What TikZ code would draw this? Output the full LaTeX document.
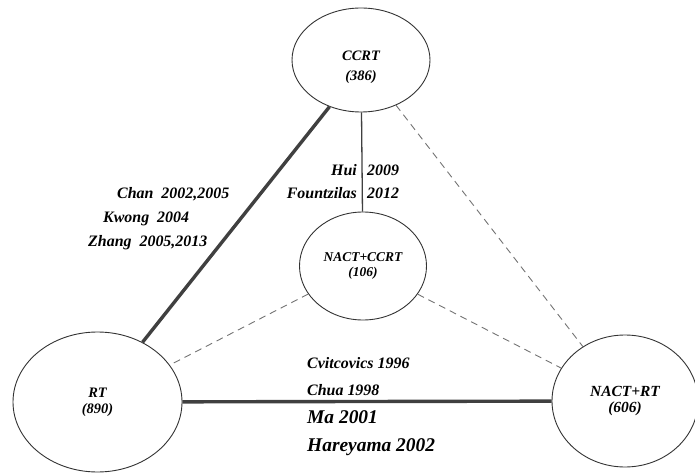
\documentclass[tikz,border=0pt]{standalone}
\usepackage{fontspec}
\setmainfont{Liberation Serif}
\usetikzlibrary{shapes.geometric}

\begin{document}
\begin{tikzpicture}[
			x=1bp, y=-1bp,
			main/.style = {draw=black!80, ellipse, line width=0.9bp, inner sep=0pt, align=center,
				font=\bfseries\itshape\fontsize{14.5}{18}\selectfont},
			lab/.style = {inner sep=0pt, font=\bfseries\itshape\fontsize{16}{18}\selectfont},
			big/.style = {inner sep=0pt, font=\bfseries\itshape\fontsize{19.5}{22}\selectfont},
			strong/.style = {draw=black!75, line width=3.4bp},
			single/.style = {draw=black!75, line width=1.3bp},
			weak/.style = {draw=black!55, line width=0.9bp, dash pattern=on 7bp off 5bp}
		]
		\useasboundingbox (0,0) rectangle (695,473);
		\node[main, minimum width=138bp, minimum height=104bp,
			font=\bfseries\itshape\fontsize{14.5}{20}\selectfont] (1) at (361,60) {\rule{0pt}{24bp}CCRT\\(386)};
		\node[main, minimum width=127bp, minimum height=108bp,
			font=\bfseries\itshape\fontsize{13.5}{16}\selectfont] (2) at (363,266) {NACT+CCRT\\(106)};
		\node[main, minimum width=169bp, minimum height=140bp,
			font=\bfseries\itshape\fontsize{14.5}{16}\selectfont] (3) at (97.5,402) {RT\\(890)};
		\node[main, minimum width=146bp, minimum height=132bp,
			font=\bfseries\itshape\fontsize{15.5}{17}\selectfont] (4) at (625,401) {NACT+RT\\(606)};
		% links between the arms
		\draw[strong] (3.53) -- (1.236);
		\draw[strong] (3) -- (4);
		\draw[single] (1) -- (2);
		\draw[weak] (1) -- (4);
		\draw[weak] (2) -- (3);
		\draw[weak] (2) -- (4);
		% trials on each link
		\node[lab, anchor=west] (5) at (117,194) {Chan\ \ 2002,2005};
		\node[lab, anchor=west] (6) at (103,219) {Kwong\ \ 2004};
		\node[lab, anchor=west] (7) at (88,243) {Zhang\ \ 2005,2013};
		\node[lab, anchor=east] (8) at (357,170) {Hui};
		\node[lab, anchor=west] (9) at (367,170) {2009};
		\node[lab, anchor=east] (10) at (357,193) {Fountzilas};
		\node[lab, anchor=west] (11) at (367,193) {2012};
		\node[lab, anchor=west] (12) at (307,363) {Cvitcovics 1996};
		\node[lab, anchor=west] (13) at (307,390) {Chua 1998};
		\node[big, anchor=west] (14) at (307,417) {Ma 2001};
		\node[big, anchor=west] (15) at (307,447) {Hareyama 2002};
	\end{tikzpicture}
\end{document}
